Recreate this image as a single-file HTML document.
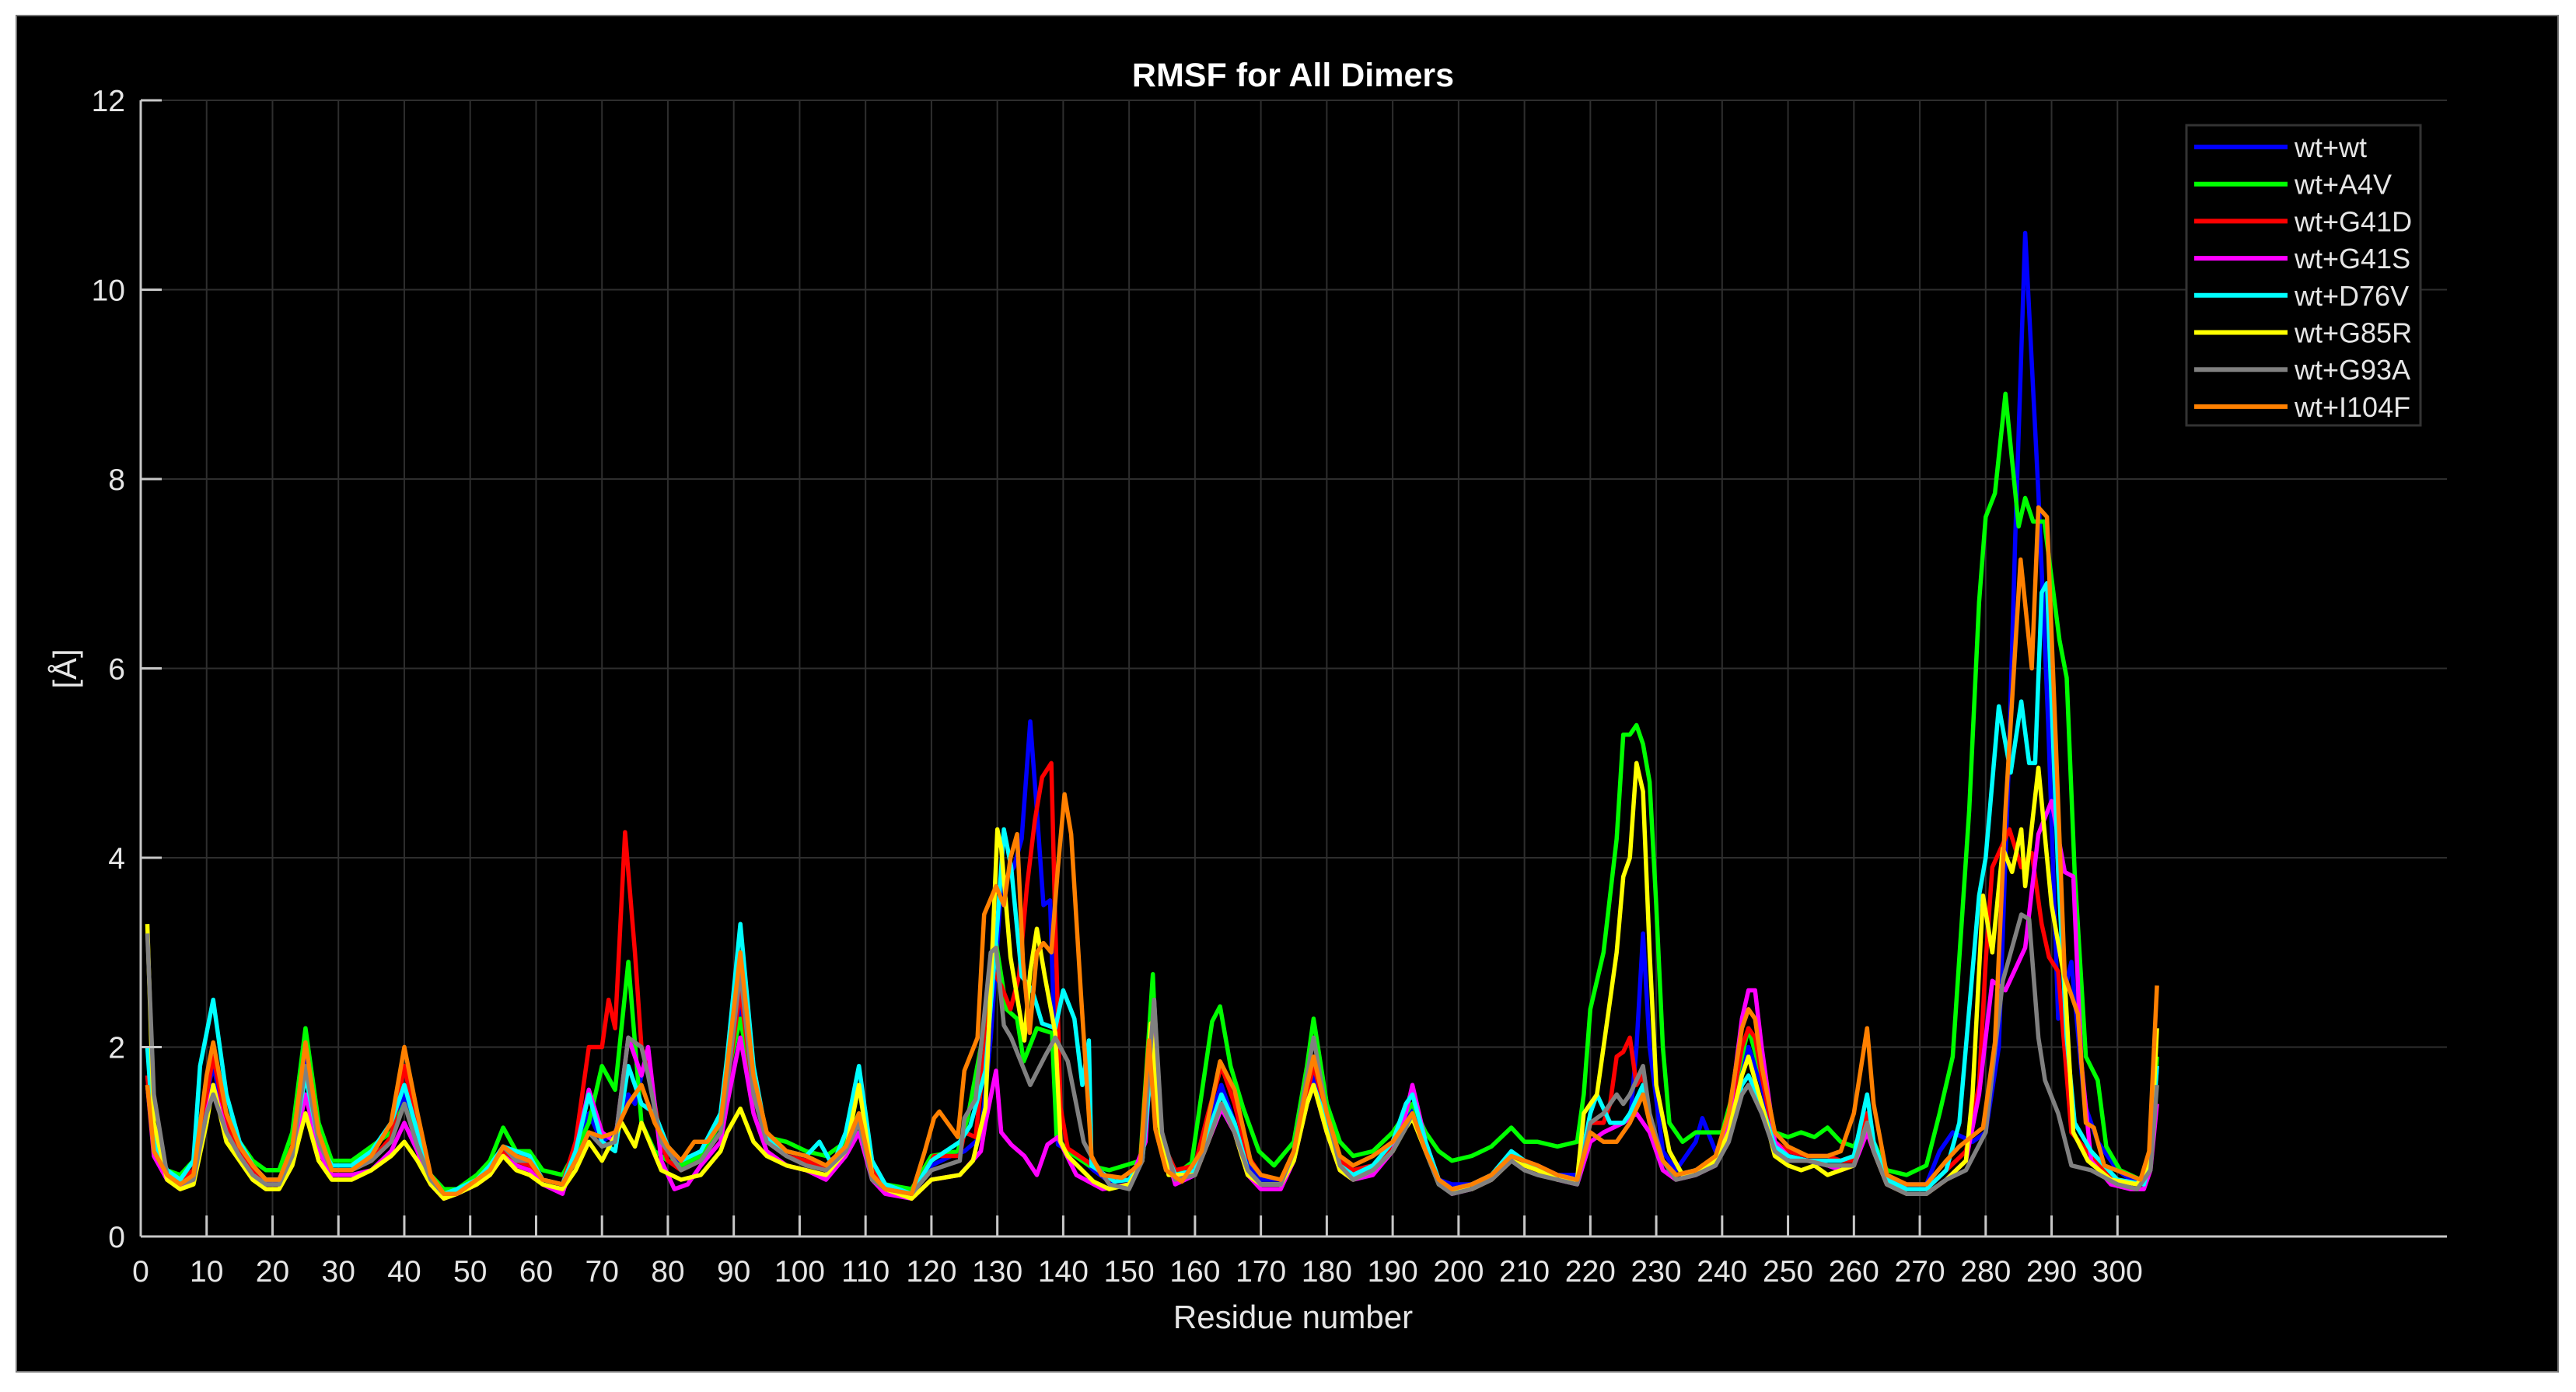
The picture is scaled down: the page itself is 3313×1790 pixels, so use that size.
<!DOCTYPE html>
<html><head><meta charset="utf-8"><style>
html,body{margin:0;padding:0;background:#fff;}
svg{display:block;font-family:"Liberation Sans",Arial,sans-serif;}
</style></head><body>
<svg id="chart" width="3313" height="1790" viewBox="0 0 3313 1790" xmlns="http://www.w3.org/2000/svg">
<rect x="21" y="20" width="3269" height="1744" fill="#000" stroke="#777" stroke-width="2"/>
<g id="grid"></g>
<g id="series"></g>
<g id="axes"></g>
<text x="1663" y="111" fill="#fff" font-size="43" font-weight="bold" text-anchor="middle">RMSF for All Dimers</text>
<text x="1663" y="1708" fill="#e6e6e6" font-size="42" text-anchor="middle">Residue number</text>
<text x="0" y="0" fill="#e6e6e6" font-size="42" text-anchor="middle" transform="translate(98,860) rotate(-90)">[Å]</text>
<g id="legend"></g>
</svg>
<script>
const seriesNames = ["wt+wt","wt+A4V","wt+G41D","wt+G41S","wt+D76V","wt+G85R","wt+G93A","wt+I104F"];
const seriesColors = ["#0000ff","#00ff00","#ff0000","#ff00ff","#00ffff","#ffff00","#808080","#ff8000"];
const xTicks = [0,10,20,30,40,50,60,70,80,90,100,110,120,130,140,150,160,170,180,190,200,210,220,230,240,250,260,270,280,290,300];
const yTicks = [0,2,4,6,8,10,12];

const wtwt = [[1,1.7],[2,0.9],[4,0.65],[6,0.6],[8,0.7],[10,1.5],[11,1.8],[13,1.2],[15,0.9],[17,0.7],[19,0.6],[21,0.6],[23,0.9],[25,1.9],[27,1.0],[29,0.75],[32,0.75],[35,0.85],[38,1.0],[40,1.5],[42,1.0],[44,0.6],[46,0.45],[48,0.5],[51,0.6],[53,0.7],[55,0.95],[57,0.85],[59,0.8],[61,0.6],[64,0.55],[66,0.85],[68,1.3],[70,1.0],[72,1.1],[74,1.5],[75,1.4],[77,2.0],[78,1.3],[80,0.9],[82,0.75],[85,0.85],[88,1.1],[89,1.6],[91,2.5],[93,1.5],[95,1.0],[98,0.85],[101,0.8],[104,0.75],[107,0.95],[109,1.3],[111,0.7],[113,0.5],[117,0.45],[120,0.75],[123,0.85],[125,0.9],[127.5,1.05],[129,2.1],[130,3.1],[130.6,3.7],[132.5,3.9],[133.7,4.2],[135,5.44],[136,4.5],[137,3.5],[138,3.55],[139.2,0.97],[142.3,0.85],[144.6,0.7],[147,0.58],[150,0.6],[152,0.8],[153.5,2.0],[155,1.0],[157,0.65],[160,0.75],[162,1.2],[164,1.6],[166,1.2],[168,0.75],[170,0.6],[173,0.6],[175,0.85],[177,1.4],[178,1.7],[180,1.2],[182,0.8],[184,0.7],[187,0.75],[190,0.95],[192,1.2],[193,1.35],[195,0.9],[197,0.6],[199,0.55],[202,0.55],[205,0.65],[208,0.85],[210,0.8],[212,0.75],[215,0.65],[218,0.65],[220,1.1],[222,1.0],[224,1.0],[226,1.2],[227,2.0],[228,3.2],[229,2.0],[231,0.9],[233,0.7],[236,1.0],[237,1.25],[239,0.9],[241,1.1],[243,1.8],[244,2.0],[246,1.6],[248,1.0],[250,0.9],[253,0.85],[256,0.85],[258,0.8],[260,0.8],[262,1.3],[263,1.0],[265,0.6],[268,0.55],[271,0.55],[273,0.9],[275,1.1],[278,1.0],[280,1.1],[282,2.0],[283.5,5.0],[284.5,7.4],[286,10.6],[288,7.85],[289.5,5.4],[291,2.3],[293,2.9],[295,1.4],[297,1.0],[300,0.7],[302,0.6],[304,0.6],[305,0.8],[306,1.8]];
const a4v = [[1,1.6],[2,0.95],[4,0.7],[6,0.65],[8,0.8],[10,1.6],[11,1.9],[13,1.3],[15,1.0],[17,0.8],[19,0.7],[21,0.7],[23,1.1],[25,2.2],[27,1.2],[29,0.8],[32,0.8],[35,0.95],[38,1.1],[40,1.4],[42,1.0],[44,0.65],[46,0.5],[48,0.5],[51,0.65],[53,0.8],[55,1.15],[57,0.9],[59,0.9],[61,0.7],[64,0.65],[66,0.9],[68,1.2],[70,1.8],[72,1.55],[74,2.9],[76,1.2],[78,0.9],[80,0.8],[82,0.75],[85,0.85],[88,1.2],[89,1.7],[91,2.3],[93,1.5],[95,1.05],[98,1.0],[101,0.9],[104,0.85],[107,1.0],[109,1.3],[111,0.7],[113,0.55],[117,0.5],[120,0.85],[124,0.9],[125.5,1.25],[127.5,2.0],[129.8,3.1],[131.4,2.4],[133,2.3],[134,1.85],[136,2.2],[138.3,2.15],[139,1.05],[140.7,0.9],[143.9,0.75],[147,0.7],[151.7,0.8],[153.6,2.77],[154.4,1.4],[155.5,0.8],[157,0.65],[159.5,0.78],[162.6,2.27],[163.8,2.43],[165.4,1.8],[167.3,1.36],[169.7,0.9],[172,0.75],[175,1.0],[177,1.8],[178,2.3],[180,1.4],[182,1.0],[184,0.85],[187,0.9],[190,1.1],[192,1.3],[193,1.4],[195,1.1],[197,0.9],[199,0.8],[202,0.85],[205,0.95],[208,1.15],[210,1.0],[212,1.0],[215,0.95],[218,1.0],[219,1.5],[220,2.4],[222,3.0],[224,4.2],[225,5.3],[226,5.3],[227,5.4],[228,5.2],[229,4.8],[230,3.5],[231,2.0],[232,1.2],[234,1.0],[236,1.1],[238,1.1],[240,1.1],[242,1.6],[244,2.2],[246,1.7],[248,1.1],[250,1.05],[252,1.1],[254,1.05],[256,1.15],[258,1.0],[260,0.95],[262,1.2],[263,1.0],[265,0.7],[268,0.65],[271,0.75],[273,1.3],[275,1.9],[277.5,4.5],[279,6.7],[280,7.6],[281.4,7.85],[283,8.9],[285,7.5],[286,7.8],[287.2,7.55],[288.9,7.55],[291.2,6.3],[292.3,5.9],[293.5,3.85],[295.2,1.9],[297,1.65],[298.3,0.95],[300.4,0.7],[303.5,0.6],[305,0.75],[306,1.9]];
const g41d = [[1,1.7],[2,0.9],[4,0.65],[6,0.6],[8,0.7],[10,1.5],[11,1.9],[13,1.2],[15,0.9],[17,0.7],[19,0.6],[21,0.6],[23,0.9],[25,1.7],[27,1.0],[29,0.7],[32,0.7],[35,0.8],[38,1.05],[40,1.8],[42,1.1],[44,0.6],[46,0.45],[48,0.45],[51,0.6],[53,0.7],[55,0.9],[57,0.8],[59,0.75],[61,0.6],[64,0.55],[66,1.0],[67,1.5],[68,2.0],[70,2.0],[71,2.5],[72,2.2],[73.5,4.27],[75,3.0],[76,2.0],[77,1.8],[79,1.0],[80,0.8],[82,0.7],[85,0.8],[88,1.1],[89,1.6],[91,2.6],[93,1.5],[95,1.0],[98,0.85],[101,0.8],[104,0.7],[107,0.95],[109,1.2],[111,0.7],[113,0.5],[117,0.45],[120.4,0.85],[124.3,0.85],[125,1.1],[126.7,1.05],[129.4,2.8],[130.6,2.65],[132,2.4],[133.3,2.75],[134.5,3.7],[135.7,4.4],[136.8,4.85],[138.2,5.0],[138.8,3.3],[139.6,1.36],[140.7,0.93],[143.9,0.78],[147,0.6],[150,0.6],[152,0.8],[153.5,1.9],[155,1.0],[157,0.7],[160,0.75],[162,1.3],[164,1.8],[166,1.4],[168,0.85],[170,0.65],[173,0.6],[175,0.9],[177,1.5],[178,1.8],[180,1.3],[182,0.8],[184,0.7],[187,0.75],[190,0.95],[192,1.15],[193,1.3],[195,0.9],[197,0.6],[199,0.5],[202,0.55],[205,0.65],[208,0.85],[210,0.8],[212,0.75],[215,0.65],[218,0.6],[220,1.2],[222,1.2],[223,1.4],[224,1.9],[225,1.95],[226,2.1],[227,1.6],[228,1.7],[229,1.2],[231,0.8],[233,0.65],[236,0.7],[239,0.8],[241,1.2],[243,2.0],[244,2.2],[245,2.1],[246,1.7],[248,1.0],[250,0.9],[253,0.85],[256,0.85],[258,0.8],[260,0.8],[262,1.3],[263,1.0],[265,0.6],[268,0.5],[271,0.5],[274,0.7],[277,0.9],[279,1.6],[280,2.9],[281,3.9],[283.6,4.3],[285.4,3.9],[287,4.05],[288.5,3.3],[289.6,2.95],[291,2.8],[293,1.1],[295.4,0.9],[298,0.7],[300,0.6],[304,0.55],[305,0.8],[306,1.8]];
const g41s = [[1,1.6],[2,0.85],[4,0.6],[6,0.5],[8,0.6],[10,1.3],[11,1.6],[13,1.1],[15,0.85],[17,0.65],[19,0.55],[21,0.55],[23,0.8],[25,1.5],[27,0.9],[29,0.65],[32,0.65],[35,0.7],[38,0.9],[40,1.2],[42,0.9],[44,0.55],[46,0.4],[48,0.45],[51,0.55],[53,0.65],[55,0.85],[57,0.75],[59,0.7],[61,0.55],[64,0.45],[66,0.9],[68,1.55],[70,1.1],[72,1.0],[74,2.1],[76,1.7],[77,2.0],[79,0.8],[81,0.5],[83,0.55],[85,0.75],[88,1.0],[89,1.4],[91,2.1],[93,1.3],[95,0.9],[98,0.75],[101,0.7],[104,0.6],[107,0.85],[109,1.1],[111,0.6],[113,0.45],[117,0.4],[120,0.6],[124.3,0.65],[127.5,0.9],[128.2,1.2],[129.8,1.75],[130.6,1.1],[132.1,0.97],[134.1,0.85],[136,0.65],[137.6,0.97],[139.2,1.05],[140,0.93],[142,0.65],[146,0.5],[150,0.55],[152.5,1.0],[153.8,2.5],[154.8,1.1],[157,0.55],[160,0.65],[162,1.0],[164,1.35],[166,1.1],[168,0.65],[170,0.5],[173,0.5],[175,0.8],[177,1.4],[178,1.6],[180,1.1],[182,0.7],[184,0.6],[187,0.65],[190,0.9],[192,1.3],[193,1.6],[195,1.0],[197,0.6],[199,0.45],[202,0.5],[205,0.6],[208,0.8],[210,0.75],[212,0.7],[215,0.6],[218,0.55],[220,1.0],[222,1.1],[225,1.2],[227,1.3],[229,1.1],[231,0.7],[233,0.6],[236,0.65],[239,0.75],[241,1.2],[243,2.3],[244,2.6],[245,2.6],[246,2.0],[248,1.0],[250,0.85],[253,0.8],[256,0.75],[258,0.7],[260,0.75],[262,1.1],[263,0.9],[265,0.55],[268,0.45],[271,0.45],[274,0.6],[277,0.8],[279,1.5],[281,2.7],[283,2.6],[286,3.05],[288,4.25],[290,4.6],[292,3.85],[293.3,3.8],[294.5,1.85],[296,0.8],[299,0.55],[302,0.5],[304,0.5],[305,0.7],[306,1.4]];
const d76v = [[1,2.0],[2,1.0],[4,0.7],[6,0.6],[8,0.8],[9,1.8],[11,2.5],[13,1.5],[15,1.0],[17,0.75],[19,0.6],[21,0.6],[23,0.9],[25,1.7],[27,1.0],[29,0.75],[32,0.75],[35,0.9],[38,1.2],[40,1.6],[42,1.1],[44,0.65],[46,0.45],[48,0.5],[51,0.6],[53,0.75],[55,0.95],[57,0.9],[59,0.85],[61,0.6],[64,0.55],[66,0.9],[68,1.5],[70,1.0],[72,0.9],[74,1.8],[76,1.4],[78,1.3],[80,0.95],[82,0.8],[85,0.9],[88,1.3],[89,1.9],[91,3.3],[93,1.8],[95,1.05],[98,0.9],[101,0.85],[103,1.0],[105,0.75],[107,1.1],[109,1.8],[111,0.8],[113,0.55],[117,0.45],[120,0.8],[124.3,1.0],[125.9,1.17],[128.2,1.75],[130,3.3],[131,4.3],[132.1,3.9],[133.7,2.75],[135.3,2.6],[136.8,2.25],[138.8,2.2],[140,2.6],[141.7,2.3],[142.9,1.6],[143.9,2.07],[144.3,0.75],[147.8,0.58],[150,0.6],[152,0.8],[153.5,1.9],[155,1.0],[157,0.65],[160,0.7],[162,1.1],[164,1.5],[166,1.2],[168,0.7],[170,0.55],[173,0.55],[175,0.85],[177,1.4],[178,1.6],[180,1.2],[182,0.75],[184,0.65],[187,0.75],[190,1.0],[192,1.4],[193,1.5],[195,1.0],[197,0.6],[199,0.5],[202,0.55],[205,0.65],[208,0.9],[210,0.8],[212,0.7],[215,0.65],[218,0.6],[220,1.3],[221,1.5],[223,1.2],[225,1.2],[226,1.3],[228,1.6],[229,1.2],[231,0.8],[233,0.65],[236,0.7],[239,0.8],[241,1.1],[243,1.6],[244,1.7],[246,1.4],[248,0.95],[250,0.85],[253,0.8],[256,0.8],[258,0.8],[260,0.85],[262,1.5],[263,1.0],[265,0.6],[268,0.5],[271,0.5],[274,0.7],[276,1.2],[279,3.6],[280,4.0],[282,5.6],[283.8,4.9],[285.4,5.65],[286.6,5.0],[287.5,5.0],[288.5,6.8],[289.3,6.9],[291,3.85],[292.3,2.1],[293.5,1.2],[296,0.9],[300,0.6],[304,0.55],[305,0.8],[306,1.8]];
const g85r = [[1,3.3],[2,1.2],[4,0.6],[6,0.5],[8,0.55],[10,1.2],[11,1.6],[13,1.0],[15,0.8],[17,0.6],[19,0.5],[21,0.5],[23,0.75],[25,1.3],[27,0.8],[29,0.6],[32,0.6],[35,0.7],[38,0.85],[40,1.0],[42,0.8],[44,0.55],[46,0.4],[48,0.45],[51,0.55],[53,0.65],[55,0.85],[57,0.7],[59,0.65],[61,0.55],[64,0.5],[66,0.7],[68,1.0],[70,0.8],[73,1.2],[75,0.95],[76,1.2],[79,0.7],[82,0.6],[85,0.65],[88,0.9],[89,1.1],[91,1.35],[93,1.0],[95,0.85],[98,0.75],[101,0.7],[104,0.65],[107,0.9],[109,1.6],[111,0.65],[113,0.5],[117,0.4],[120,0.6],[124.3,0.65],[126.3,0.8],[128.2,1.36],[129.4,3.3],[130,4.3],[130.6,4.1],[132,2.95],[134.1,2.07],[135,2.8],[136,3.25],[137.2,2.75],[138.8,2.15],[139.6,1.0],[140.7,0.85],[144.6,0.58],[147,0.5],[150,0.55],[152,0.8],[153.3,2.25],[154.5,1.2],[156,0.65],[160,0.65],[162,1.0],[164,1.4],[166,1.1],[168,0.65],[170,0.55],[173,0.55],[175,0.8],[177,1.4],[178,1.6],[180,1.1],[182,0.7],[184,0.6],[187,0.7],[190,0.9],[192,1.15],[193,1.25],[195,0.9],[197,0.55],[199,0.5],[202,0.5],[205,0.6],[208,0.8],[210,0.75],[212,0.7],[215,0.6],[218,0.6],[219,1.3],[221,1.5],[223,2.5],[224,3.0],[225,3.8],[226,4.0],[227,5.0],[228,4.7],[229,3.0],[230,1.6],[232,0.9],[234,0.65],[236,0.7],[239,0.8],[241,1.1],[243,1.7],[244,1.9],[246,1.4],[248,0.85],[250,0.75],[252,0.7],[254,0.75],[256,0.65],[258,0.7],[260,0.75],[262,1.2],[263,0.9],[265,0.55],[268,0.45],[271,0.45],[274,0.6],[277,0.8],[278,1.5],[279.6,3.6],[281,3.0],[282.6,4.1],[284,3.85],[285.4,4.3],[286,3.7],[288,4.95],[290,3.5],[292,2.7],[293.3,1.1],[295.5,0.8],[299,0.6],[303,0.55],[305,0.8],[306,2.2]];
const g93a = [[1,3.2],[2,1.5],[4,0.65],[6,0.55],[8,0.6],[10,1.3],[11,1.5],[13,1.1],[15,0.85],[17,0.65],[19,0.55],[21,0.55],[23,0.85],[25,1.8],[27,1.0],[29,0.7],[32,0.7],[35,0.8],[38,1.0],[40,1.4],[42,0.95],[44,0.6],[46,0.45],[48,0.45],[51,0.6],[53,0.7],[55,0.95],[57,0.8],[59,0.8],[61,0.6],[64,0.55],[66,0.8],[68,1.1],[70,0.95],[72,1.0],[74,2.1],[76,2.0],[77,1.7],[79,1.0],[82,0.7],[85,0.8],[88,1.1],[89,1.6],[91,2.8],[93,1.5],[95,1.0],[98,0.85],[101,0.75],[104,0.7],[107,0.9],[109,1.2],[111,0.6],[113,0.5],[117,0.45],[120,0.7],[124.3,0.8],[125,1.25],[126.7,1.45],[129,3.0],[129.8,3.05],[131,2.23],[132.1,2.1],[135,1.6],[137.2,1.9],[138.8,2.1],[140.7,1.85],[143.1,1.0],[144.6,0.8],[147,0.55],[150,0.5],[152,0.8],[153.8,2.5],[155,1.1],[157,0.6],[160,0.65],[162,1.0],[164,1.4],[166,1.1],[168,0.7],[170,0.55],[173,0.55],[175,0.9],[177,1.7],[178,2.1],[180,1.3],[182,0.75],[184,0.6],[187,0.7],[190,0.9],[192,1.15],[193,1.3],[195,0.9],[197,0.55],[199,0.45],[202,0.5],[205,0.6],[208,0.8],[210,0.7],[212,0.65],[215,0.6],[218,0.55],[220,1.2],[222,1.3],[224,1.5],[225,1.4],[226,1.5],[228,1.8],[229,1.3],[231,0.8],[233,0.6],[236,0.65],[239,0.75],[241,1.0],[243,1.5],[244,1.6],[246,1.3],[248,0.9],[250,0.8],[253,0.8],[256,0.75],[258,0.75],[260,0.75],[262,1.2],[263,0.9],[265,0.55],[268,0.45],[271,0.45],[274,0.6],[277,0.7],[280,1.1],[282.6,2.7],[284,3.05],[285.4,3.4],[286.6,3.35],[288,2.1],[289,1.65],[291,1.3],[293,0.75],[296,0.7],[300,0.55],[303,0.5],[305,0.7],[306,1.6]];
const i104f = [[1,1.6],[2,0.9],[4,0.65],[6,0.55],[8,0.65],[10,1.7],[11,2.05],[13,1.3],[15,0.95],[17,0.75],[19,0.6],[21,0.6],[23,0.95],[25,2.05],[27,1.1],[29,0.7],[32,0.7],[35,0.85],[38,1.2],[40,2.0],[42,1.3],[44,0.65],[46,0.45],[48,0.45],[51,0.6],[53,0.7],[55,0.95],[57,0.85],[59,0.8],[61,0.6],[64,0.55],[66,0.8],[68,1.1],[70,1.05],[72,1.1],[74,1.4],[76,1.6],[78,1.2],[80,0.95],[82,0.8],[84,1.0],[86,1.0],[88,1.2],[89,1.8],[91,3.0],[93,1.7],[95,1.1],[98,0.9],[101,0.85],[104,0.75],[107,0.95],[109,1.3],[111,0.65],[113,0.5],[117,0.45],[119,0.9],[120.4,1.25],[121.2,1.32],[124,1.05],[125,1.75],[127,2.1],[128,3.4],[129.8,3.7],[131,3.5],[132,4.0],[133,4.25],[133.9,2.9],[134.9,2.15],[136,3.0],[137,3.1],[138.2,3.0],[139.2,3.9],[140.2,4.67],[141.2,4.25],[142.7,2.55],[144.3,0.85],[145.8,0.65],[148.9,0.62],[150.5,0.7],[151.7,0.78],[153,2.07],[154,1.13],[155.6,0.7],[158,0.58],[161,0.9],[163.8,1.85],[166,1.55],[168.5,0.78],[170,0.65],[173,0.6],[175,0.9],[177,1.6],[178,1.9],[180,1.3],[182,0.85],[184,0.75],[187,0.85],[190,1.0],[192,1.2],[193,1.3],[195,0.9],[197,0.6],[199,0.5],[202,0.55],[205,0.65],[208,0.85],[210,0.8],[212,0.75],[215,0.65],[218,0.6],[220,1.1],[222,1.0],[224,1.0],[226,1.2],[228,1.5],[229,1.2],[231,0.8],[233,0.65],[236,0.7],[239,0.85],[241,1.3],[243,2.2],[244,2.4],[245,2.3],[246,1.8],[248,1.1],[250,0.95],[253,0.85],[256,0.85],[258,0.9],[260,1.3],[262,2.2],[263,1.4],[265,0.65],[268,0.55],[271,0.55],[274,0.8],[276,0.95],[279.6,1.15],[281.4,2.05],[283,4.5],[285.3,7.15],[287,6.0],[288,7.7],[289.3,7.6],[290.6,5.3],[292,2.75],[294,2.35],[295.2,1.2],[296.4,1.15],[298,0.75],[303.5,0.6],[304.8,0.9],[306,2.65]];
const allSeries = [wtwt, a4v, g41d, g41s, d76v, g85r, g93a, i104f];

const NS = "http://www.w3.org/2000/svg";
const X0 = 181, X1 = 3147, Y0 = 1590, Y1 = 129;
const xMax = 350, yMax = 12;
function sx(v){ return X0 + v / xMax * (X1 - X0); }
function sy(v){ return Y0 - v / yMax * (Y0 - Y1); }
function mk(tag, attrs, parent){
  const e = document.createElementNS(NS, tag);
  for (const k in attrs) e.setAttribute(k, attrs[k]);
  parent.appendChild(e);
  return e;
}
const grid = document.getElementById('grid');
const axes = document.getElementById('axes');
xTicks.forEach(t => {
  if (t > 0) {
    const g = mk('line', {x1: sx(t), x2: sx(t), y1: Y1, y2: Y0, stroke: '#2e2e2e', 'stroke-width': 2}, grid);
    
    
  }
  const tk = mk('line', {x1: sx(t), x2: sx(t), y1: Y0, y2: Y0 - 27, stroke: '#c8c8c8', 'stroke-width': 3}, axes);
  
  
  const lb = mk('text', {x: sx(t), y: Y0 + 58, fill: '#e6e6e6', 'font-size': 39, 'text-anchor': 'middle'}, axes);
  lb.textContent = t;
  
  
});
yTicks.forEach(t => {
  if (t > 0) {
    const g = mk('line', {x1: X0, x2: X1, y1: sy(t), y2: sy(t), stroke: '#2e2e2e', 'stroke-width': 2}, grid);
    
    
  }
  const tk = mk('line', {x1: X0, x2: X0 + 27, y1: sy(t), y2: sy(t), stroke: '#c8c8c8', 'stroke-width': 3}, axes);
  
  
  const lb = mk('text', {x: X0 - 20, y: sy(t) + 14, fill: '#e6e6e6', 'font-size': 39, 'text-anchor': 'end'}, axes);
  lb.textContent = t;
  
  
});
const xa = mk('line', {x1: X0, x2: X1, y1: Y0, y2: Y0, stroke: '#c8c8c8', 'stroke-width': 3}, axes);


const ya = mk('line', {x1: X0, x2: X0, y1: Y0, y2: Y1, stroke: '#c8c8c8', 'stroke-width': 3}, axes);



const sg = document.getElementById('series');
allSeries.forEach((data, i) => {
  const pts = data.map(p => sx(p[0]).toFixed(1) + ',' + sy(p[1]).toFixed(1)).join(' ');
  const pl = mk('polyline', {points: pts, fill: 'none', stroke: seriesColors[i], 'stroke-width': 5.5, 'stroke-linejoin': 'round'}, sg);
  
  
});

const lg = document.getElementById('legend');
const box = mk('rect', {x: 2812, y: 161, width: 301, height: 386, fill: '#000', stroke: '#333', 'stroke-width': 3}, lg);


seriesNames.forEach((n, i) => {
  const y = 189 + i * 47.7;
  const ln = mk('line', {x1: 2822, x2: 2942, y1: y, y2: y, stroke: seriesColors[i], 'stroke-width': 6}, lg);
  
  
  const tx = mk('text', {x: 2951, y: y + 13, fill: '#e6e6e6', 'font-size': 36}, lg);
  tx.textContent = n;
  
  
});
</script>
</body></html>
